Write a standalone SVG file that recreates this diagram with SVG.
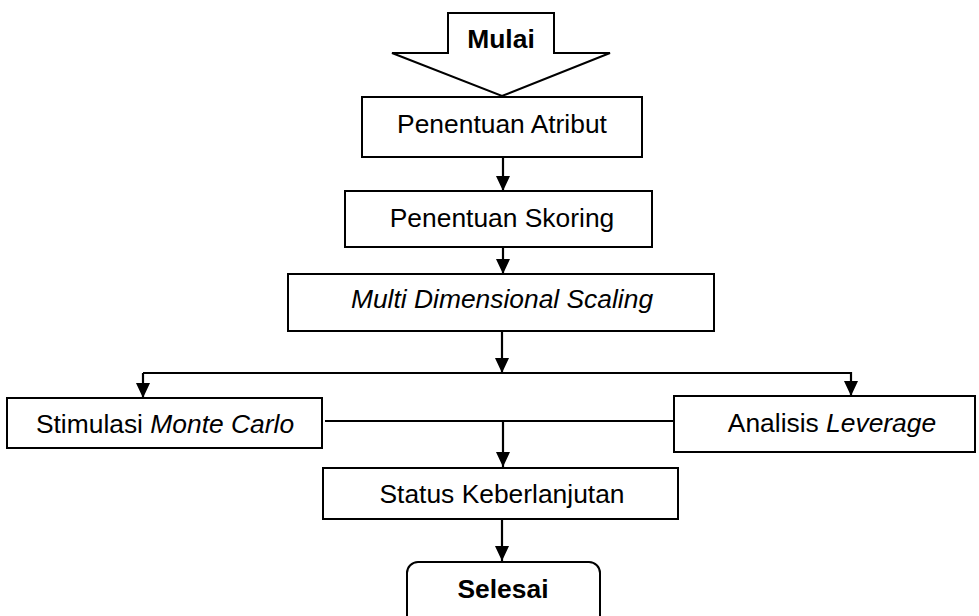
<svg xmlns="http://www.w3.org/2000/svg" width="979" height="616" viewBox="0 0 979 616">
<defs>
<marker id="ah" viewBox="0 0 15 14" refX="15" refY="7" markerWidth="15" markerHeight="14" markerUnits="userSpaceOnUse" orient="auto">
<path d="M0,0 L15,7 L0,14 Z" fill="#000"/>
</marker>
<style>
.box{fill:#fff;stroke:#000;stroke-width:2}
.t{font-family:"Liberation Sans",Arial,sans-serif;font-size:26.4px;fill:#000;text-anchor:middle}
.b{font-weight:bold}
.i{font-style:italic}
.ln{fill:none;stroke:#000;stroke-width:2.2}
</style>
</defs>
<rect width="979" height="616" fill="#fff"/>
<g id="connectors">
<line class="ln" x1="503" y1="158" x2="503" y2="191" marker-end="url(#ah)"/>
<line class="ln" x1="503" y1="248" x2="503" y2="274" marker-end="url(#ah)"/>
<line class="ln" x1="502" y1="332" x2="502" y2="373" marker-end="url(#ah)"/>
<polyline class="ln" points="143,373 851,373 851,396" marker-end="url(#ah)"/>
<line class="ln" x1="143" y1="373" x2="143" y2="398" marker-end="url(#ah)"/>
<line class="ln" x1="325" y1="421" x2="673" y2="421"/>
<line class="ln" x1="503" y1="421" x2="503" y2="467" marker-end="url(#ah)"/>
<line class="ln" x1="502" y1="520" x2="502" y2="561" marker-end="url(#ah)"/>
</g>
<g id="mulai">
<path d="M448,13 L554,13 L554,53 L610,53 L502,96 L392,53 L448,53 Z" fill="#fff" stroke="#000" stroke-width="2" stroke-linejoin="miter"/>
<text class="t b" x="501" y="48">Mulai</text>
</g>
<g id="atribut">
<rect class="box" x="362" y="97" width="280" height="60" stroke-width="2.6"/>
<text class="t" x="502" y="133">Penentuan Atribut</text>
</g>
<g id="skoring">
<rect class="box" x="345" y="191" width="307" height="56"/>
<text class="t" x="502" y="227">Penentuan Skoring</text>
</g>
<g id="mds">
<rect class="box" x="288" y="274" width="426" height="57"/>
<text class="t i" x="502" y="308">Multi Dimensional Scaling</text>
</g>
<g id="montecarlo">
<rect class="box" x="7" y="398" width="315" height="50"/>
<text class="t" x="165" y="433">Stimulasi <tspan class="i">Monte Carlo</tspan></text>
</g>
<g id="leverage">
<rect class="box" x="674" y="396" width="301" height="56"/>
<text class="t" x="832" y="432">Analisis <tspan class="i">Leverage</tspan></text>
</g>
<g id="status">
<rect class="box" x="323" y="468" width="355" height="51"/>
<text class="t" x="502" y="503">Status Keberlanjutan</text>
</g>
<g id="selesai">
<rect class="box" x="407" y="562" width="193" height="70" rx="11" ry="11"/>
<text class="t b" x="503" y="598">Selesai</text>
</g>
</svg>
